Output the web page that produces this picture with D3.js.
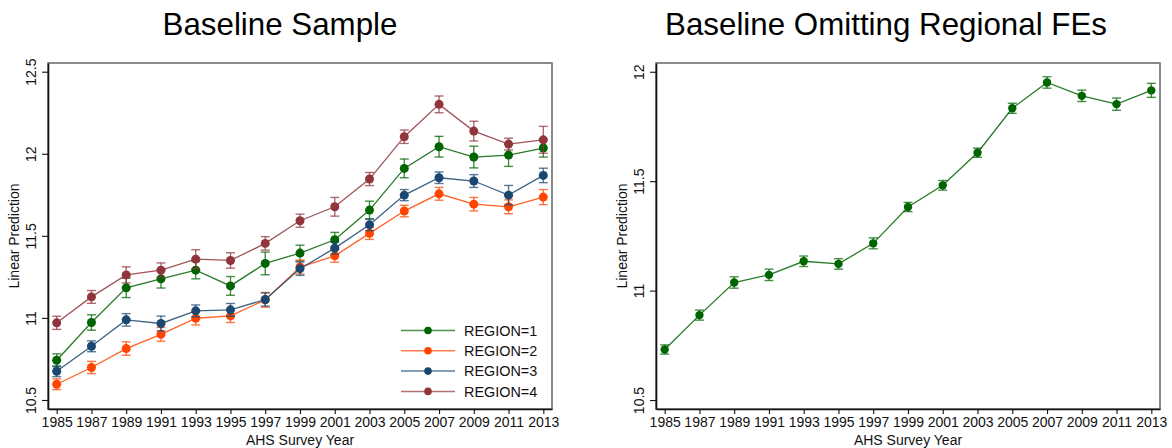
<!DOCTYPE html>
<html>
<head>
<meta charset="utf-8">
<script src="https://cdn.jsdelivr.net/npm/d3@7"></script>
<style>
  html, body { margin: 0; padding: 0; background: #fff; }
  svg { display: block; font-family: "Liberation Sans", Arial, Helvetica, sans-serif; }
</style>
</head>
<body>
<svg id="chart" width="1172" height="448"></svg>
<script>
// ---------- DATA ----------
const years = [1985, 1987, 1989, 1991, 1993, 1995, 1997, 1999, 2001, 2003, 2005, 2007, 2009, 2011, 2013];

const region1    = [10.742, 10.972, 11.183, 11.238, 11.291, 11.195, 11.332, 11.395, 11.476, 11.657, 11.911, 12.043, 11.980, 11.992, 12.035];
const region1Err = [0.039, 0.047, 0.059, 0.056, 0.053, 0.057, 0.069, 0.048, 0.045, 0.054, 0.057, 0.063, 0.066, 0.069, 0.055];
const region2    = [10.596, 10.698, 10.813, 10.900, 10.998, 11.012, 11.110, 11.310, 11.378, 11.515, 11.651, 11.756, 11.693, 11.677, 11.736];
const region2Err = [0.033, 0.037, 0.041, 0.042, 0.041, 0.040, 0.045, 0.042, 0.039, 0.037, 0.035, 0.039, 0.041, 0.042, 0.046];
const region3    = [10.675, 10.827, 10.988, 10.966, 11.043, 11.049, 11.112, 11.300, 11.425, 11.567, 11.748, 11.854, 11.834, 11.748, 11.868];
const region3Err = [0.033, 0.033, 0.038, 0.045, 0.036, 0.039, 0.040, 0.041, 0.036, 0.035, 0.034, 0.035, 0.039, 0.059, 0.044];
const region4    = [10.970, 11.128, 11.262, 11.291, 11.358, 11.350, 11.454, 11.592, 11.677, 11.846, 12.104, 12.301, 12.138, 12.059, 12.085];
const region4Err = [0.040, 0.039, 0.049, 0.044, 0.057, 0.047, 0.041, 0.040, 0.057, 0.040, 0.041, 0.051, 0.060, 0.036, 0.082];

const pooled    = [10.731, 10.888, 11.037, 11.072, 11.134, 11.122, 11.216, 11.382, 11.481, 11.630, 11.833, 11.951, 11.890, 11.852, 11.915];
const pooledErr = [0.021, 0.023, 0.026, 0.026, 0.024, 0.024, 0.025, 0.021, 0.022, 0.021, 0.023, 0.026, 0.026, 0.028, 0.032];

const seriesNames = ["REGION=1", "REGION=2", "REGION=3", "REGION=4"];
const seriesColors = ["#006400", "#ff4500", "#1a476f", "#90353b"];

const leftTitle = "Baseline Sample";
const rightTitle = "Baseline Omitting Regional FEs";
const yAxisTitle = "Linear Prediction";
const xAxisTitle = "AHS Survey Year";
const yTicksLeft = [10.5, 11, 11.5, 12, 12.5];
const yTicksRight = [10.5, 11, 11.5, 12];

// ---------- DRAW ----------
const svg = d3.select("#chart");
const FS = 14;

function panel(opts) {
  const { x0, x1, yTop, yBot, yDomain, yTicks, series, title, titleCx, legend, r } = opts;
  const g = svg.append("g");
  const x = d3.scaleLinear().domain([1984.5, 2013.5]).range([x0, x1]);
  const y = d3.scaleLinear().domain(yDomain).range([yBot, yTop]);

  // title
  g.append("text").attr("x", titleCx).attr("y", 35).attr("text-anchor", "middle")
    .attr("font-size", 31.3).attr("fill", "#000").text(title);

  // plot frame (top/right gray)
  g.append("rect").attr("x", x0).attr("y", yTop).attr("width", x1 - x0).attr("height", yBot - yTop)
    .attr("fill", "none").attr("stroke", "#6f6f6f").attr("stroke-width", 1.6);

  // x axis
  const xAxis = d3.axisBottom(x).tickValues(years).tickFormat(d3.format("d")).tickSize(5).tickSizeOuter(0).tickPadding(3);
  const gx = g.append("g").attr("transform", `translate(0,${yBot})`).call(xAxis);
  gx.select(".domain").attr("stroke", "#111").attr("stroke-width", 1.6);
  gx.selectAll(".tick line").attr("stroke", "#111").attr("stroke-width", 1.1);
  gx.selectAll(".tick text").attr("font-size", FS).attr("fill", "#111").attr("font-family", "Liberation Sans, Arial, sans-serif")
    .attr("dy", "0.71em");

  // y axis
  const yAxis = d3.axisLeft(y).tickValues(yTicks).tickFormat(d => String(d)).tickSize(6).tickSizeOuter(0);
  const gy = g.append("g").attr("transform", `translate(${x0},0)`).call(yAxis);
  gy.select(".domain").attr("stroke", "#111").attr("stroke-width", 1.6);
  gy.selectAll(".tick line").attr("stroke", "#111").attr("stroke-width", 1.1);
  gy.selectAll(".tick text")
    .attr("font-size", FS).attr("fill", "#111").attr("font-family", "Liberation Sans, Arial, sans-serif")
    .attr("x", null).attr("dy", null)
    .attr("text-anchor", "middle")
    .attr("transform", "translate(-12,0) rotate(-90)");

  // axis titles
  g.append("text").attr("x", (x0 + x1) / 2).attr("y", yBot + 36).attr("text-anchor", "middle")
    .attr("font-size", FS).attr("fill", "#111").text(xAxisTitle);
  g.append("text").attr("transform", `translate(${x0 - 29},${(yTop + yBot) / 2}) rotate(-90)`)
    .attr("text-anchor", "middle").attr("font-size", FS).attr("fill", "#111").text(yAxisTitle);

  const line = d3.line().x(d => x(d.year)).y(d => y(d.v));

  series.forEach(s => {
    const pts = years.map((yr, i) => ({ year: yr, v: s.values[i], e: s.err[i] }));
    const sg = g.append("g");
    const ci = sg.append("g").attr("stroke", s.color).attr("stroke-opacity", 0.72).attr("stroke-width", 1.4).attr("fill", "none");
    pts.forEach(p => {
      const cx = x(p.year), ylo = y(p.v - p.e), yhi = y(p.v + p.e);
      ci.append("line").attr("x1", cx).attr("x2", cx).attr("y1", ylo).attr("y2", yhi);
      ci.append("line").attr("x1", cx - 4.5).attr("x2", cx + 4.5).attr("y1", ylo).attr("y2", ylo);
      ci.append("line").attr("x1", cx - 4.5).attr("x2", cx + 4.5).attr("y1", yhi).attr("y2", yhi);
    });
    sg.append("path").datum(pts).attr("d", line).attr("fill", "none")
      .attr("stroke", s.color).attr("stroke-opacity", 0.85).attr("stroke-width", 1.3);
    sg.selectAll("circle").data(pts).join("circle")
      .attr("cx", p => x(p.year)).attr("cy", p => y(p.v)).attr("r", r).attr("fill", s.color);
  });

  if (legend) {
    series.forEach((s, i) => {
      const ly = 330.5 + i * 20.3;
      g.append("line").attr("x1", 401).attr("x2", 455).attr("y1", ly).attr("y2", ly)
        .attr("stroke", s.color).attr("stroke-opacity", 0.7).attr("stroke-width", 1.5);
      g.append("circle").attr("cx", 428).attr("cy", ly).attr("r", 3.8).attr("fill", s.color);
      g.append("text").attr("x", 464).attr("y", ly + 5.2).attr("font-size", 14.4).attr("fill", "#111").text(s.name);
    });
  }
}

panel({
  x0: 48, x1: 552, yTop: 63, yBot: 409,
  yDomain: [10.445, 12.553], yTicks: yTicksLeft,
  series: [
    { name: seriesNames[0], color: seriesColors[0], values: region1, err: region1Err },
    { name: seriesNames[1], color: seriesColors[1], values: region2, err: region2Err },
    { name: seriesNames[2], color: seriesColors[2], values: region3, err: region3Err },
    { name: seriesNames[3], color: seriesColors[3], values: region4, err: region4Err }
  ],
  title: leftTitle, titleCx: 280, legend: true, r: 4.5
});

panel({
  x0: 656, x1: 1160, yTop: 63, yBot: 409,
  yDomain: [10.459, 12.04], yTicks: yTicksRight,
  series: [
    { name: "", color: seriesColors[0], values: pooled, err: pooledErr }
  ],
  title: rightTitle, titleCx: 886, legend: false, r: 4.2
});
</script>
</body>
</html>
